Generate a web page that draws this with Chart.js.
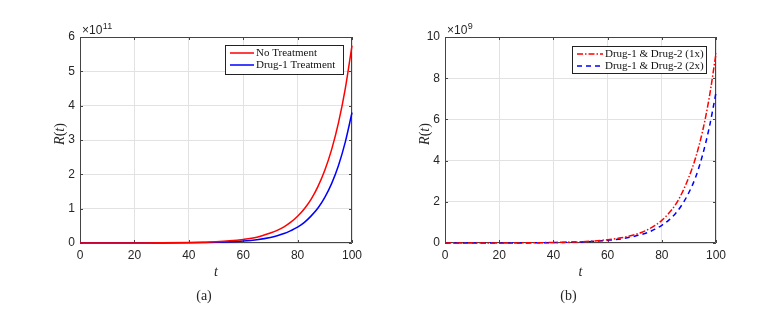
<!DOCTYPE html>
<html>
<head>
<meta charset="utf-8">
<script src="https://cdn.jsdelivr.net/npm/chart.js@4.4.1/dist/chart.umd.min.js"></script>
<style>
  html, body { margin: 0; padding: 0; background: #fff; }
  #wrap { position: relative; width: 767px; height: 313px; }
  .box { position: absolute; top: 0; height: 313px; }
</style>
</head>
<body>
<div id="wrap">
  <div class="box" style="left:0;width:383px"><canvas id="chartA"></canvas></div>
  <div class="box" style="left:383px;width:384px"><canvas id="chartB"></canvas></div>
</div>
<script>
// time points (same grid for both panels)
const tVals = [0, 10, 20, 30, 40, 45, 50, 55, 60, 65, 70, 72.5, 75, 77.5, 80, 82.5, 85, 87.5, 90, 92.5, 95, 97.5, 100];

// panel (a), values in units of 1e11
const noTreatment = [0.0003, 0.0007, 0.002, 0.005, 0.014, 0.024, 0.039, 0.064, 0.105, 0.17, 0.29, 0.367, 0.47, 0.606, 0.78, 1.0, 1.28, 1.65, 2.12, 2.72, 3.49, 4.48, 5.75];
const drug1Treatment = [0.0001, 0.0003, 0.0009, 0.0024, 0.007, 0.012, 0.02, 0.034, 0.057, 0.096, 0.16, 0.21, 0.275, 0.36, 0.46, 0.6, 0.79, 1.02, 1.33, 1.73, 2.25, 2.93, 3.8];

// panel (b), values in units of 1e9
const combo1x = [0.0002, 0.0008, 0.003, 0.008, 0.025, 0.04, 0.06, 0.1, 0.16, 0.25, 0.4, 0.51, 0.66, 0.85, 1.1, 1.43, 1.85, 2.44, 3.2, 4.15, 5.4, 7.05, 9.2];
const combo2x = [0.0001, 0.0005, 0.002, 0.006, 0.02, 0.032, 0.05, 0.08, 0.13, 0.2, 0.33, 0.41, 0.52, 0.67, 0.86, 1.1, 1.42, 1.87, 2.45, 3.2, 4.25, 5.6, 7.3];

const xTicks = [0, 20, 40, 60, 80, 100];
const yTicksA = [0, 1, 2, 3, 4, 5, 6];
const yTicksB = [0, 2, 4, 6, 8, 10];

const toPts = (ys) => ys.map((y, i) => ({ x: tVals[i], y: y }));

const SANS = "'Liberation Sans', Arial, sans-serif";
const SERIF = "'Liberation Serif', 'Times New Roman', serif";
const INK = '#262626';

// frame, inward ticks, exponent, axis labels, caption and legend
const decorPlugin = {
  id: 'decor',
  beforeDatasetsDraw(chart, args, opts) {
    const ctx = chart.ctx;
    const { left, right, top, bottom } = chart.chartArea;
    const xs = chart.scales.x, ys = chart.scales.y;
    ctx.save();
    ctx.strokeStyle = '#444';
    ctx.lineWidth = 1;
    ctx.beginPath();
    ctx.rect(left + 0.5, top + 0.5, right - left - 1, bottom - top - 1);
    ctx.stroke();
    // inward tick marks on every side
    const tl = 3;
    ctx.beginPath();
    opts.xTicks.forEach(v => {
      const px = Math.round(xs.getPixelForValue(v)) + 0.5;
      ctx.moveTo(px, bottom); ctx.lineTo(px, bottom - tl);
      ctx.moveTo(px, top); ctx.lineTo(px, top + tl);
    });
    opts.yTicks.forEach(v => {
      const py = Math.round(ys.getPixelForValue(v)) + 0.5;
      ctx.moveTo(left, py); ctx.lineTo(left + tl, py);
      ctx.moveTo(right, py); ctx.lineTo(right - tl, py);
    });
    ctx.stroke();

    // exponent label
    ctx.fillStyle = INK;
    ctx.textBaseline = 'alphabetic';
    ctx.textAlign = 'left';
    ctx.font = '12px ' + SANS;
    const ex = left + 2, ey = top - 3;
    ctx.fillText('\u00d710', ex, ey);
    const w = ctx.measureText('\u00d710').width;
    ctx.font = '9px ' + SANS;
    ctx.fillText(opts.exponent, ex + w + 0.5, ey - 5);

    // x title
    const cx = (left + right) / 2;
    ctx.font = 'italic 14px ' + SERIF;
    ctx.textAlign = 'center';
    ctx.textBaseline = 'middle';
    ctx.fillText('t', cx, 272);

    // caption
    ctx.font = '14px ' + SERIF;
    ctx.fillText(opts.caption, cx + opts.capShift, 296);

    // y title R(t), rotated
    ctx.save();
    ctx.translate(left - 20, (top + bottom) / 2 - 6);
    ctx.rotate(-Math.PI / 2);
    const parts = [['R', 'italic '], ['(', ''], ['t', 'italic '], [')', '']];
    let total = 0;
    parts.forEach(p => { ctx.font = p[1] + '14px ' + SERIF; total += ctx.measureText(p[0]).width; });
    let x0 = -total / 2;
    ctx.textAlign = 'left';
    parts.forEach(p => {
      ctx.font = p[1] + '14px ' + SERIF;
      ctx.fillText(p[0], x0, 0);
      x0 += ctx.measureText(p[0]).width;
    });
    ctx.restore();
    ctx.restore();
  },
  afterDatasetsDraw(chart, args, opts) {
    const ctx = chart.ctx;
    ctx.save();
    // legend box
    const L = opts.legend;
    ctx.fillStyle = '#fff';
    ctx.fillRect(L.x, L.y, L.w, L.h);
    ctx.strokeStyle = '#222';
    ctx.lineWidth = 1;
    ctx.strokeRect(L.x + 0.5, L.y + 0.5, L.w - 1, L.h - 1);
    chart.data.datasets.forEach((ds, i) => {
      const ry = L.y + 8 + i * 12;
      ctx.strokeStyle = ds.borderColor;
      ctx.lineWidth = 1.5;
      ctx.setLineDash(ds.borderDash || []);
      ctx.beginPath();
      ctx.moveTo(L.x + 5, ry);
      ctx.lineTo(L.x + 5 + L.line, ry);
      ctx.stroke();
      ctx.setLineDash([]);
      ctx.fillStyle = '#111';
      ctx.font = L.font + 'px ' + SERIF;
      ctx.textAlign = 'left';
      ctx.textBaseline = 'middle';
      ctx.fillText(ds.label, L.x + 7 + L.line, ry + 0.5);
    });
    ctx.restore();
  }
};

function makeChart(id, datasets, yMax, yTicks, axisW, padRight, decor) {
  const ctx = document.getElementById(id).getContext('2d');
  return new Chart(ctx, {
    type: 'line',
    data: { datasets: datasets },
    options: {
      responsive: true,
      maintainAspectRatio: false,
      animation: false,
      layout: { padding: { left: 0, right: padRight, top: 37, bottom: 0 } },
      elements: { point: { radius: 0 }, line: { borderWidth: 1.5, cubicInterpolationMode: 'monotone' } },
      datasets: { line: { clip: 2 } },
      scales: {
        x: {
          type: 'linear',
          min: 0,
          max: 100,
          afterBuildTicks: (s) => { s.ticks = xTicks.map(v => ({ value: v })); },
          afterFit: (s) => { s.height = 70; },
          ticks: { color: INK, font: { family: SANS, size: 12 }, padding: 5, maxRotation: 0 },
          grid: { color: '#e2e2e2', drawTicks: false },
          border: { display: false }
        },
        y: {
          min: 0,
          max: yMax,
          afterBuildTicks: (s) => { s.ticks = yTicks.map(v => ({ value: v })); },
          afterFit: (s) => { s.width = axisW; },
          ticks: { color: INK, font: { family: SANS, size: 12 }, padding: 5 },
          grid: { color: '#e2e2e2', drawTicks: false },
          border: { display: false }
        }
      },
      plugins: {
        legend: { display: false },
        tooltip: { enabled: false },
        decor: decor
      }
    },
    plugins: [decorPlugin]
  });
}

makeChart('chartA', [
  { label: 'No Treatment', data: toPts(noTreatment), borderColor: '#ff0000' },
  { label: 'Drug-1 Treatment', data: toPts(drug1Treatment), borderColor: '#0000ff' }
], 6, yTicksA, 80, 31, {
  xTicks: xTicks, yTicks: yTicksA, exponent: '11', caption: '(a)', capShift: -12,
  legend: { x: 225, y: 45, w: 119, h: 30, line: 24, font: 11 }
});

makeChart('chartB', [
  { label: 'Drug-1 & Drug-2 (1x)', data: toPts(combo1x), borderColor: '#ff0000', borderDash: [6, 2, 1.5, 2] },
  { label: 'Drug-1 & Drug-2 (2x)', data: toPts(combo2x), borderColor: '#0000ff', borderDash: [5, 4] }
], 10, yTicksB, 62, 51, {
  xTicks: xTicks, yTicks: yTicksB, exponent: '9', caption: '(b)', capShift: -12,
  legend: { x: 189, y: 46, w: 135, h: 28, line: 26, font: 11 }
});
</script>
</body>
</html>
